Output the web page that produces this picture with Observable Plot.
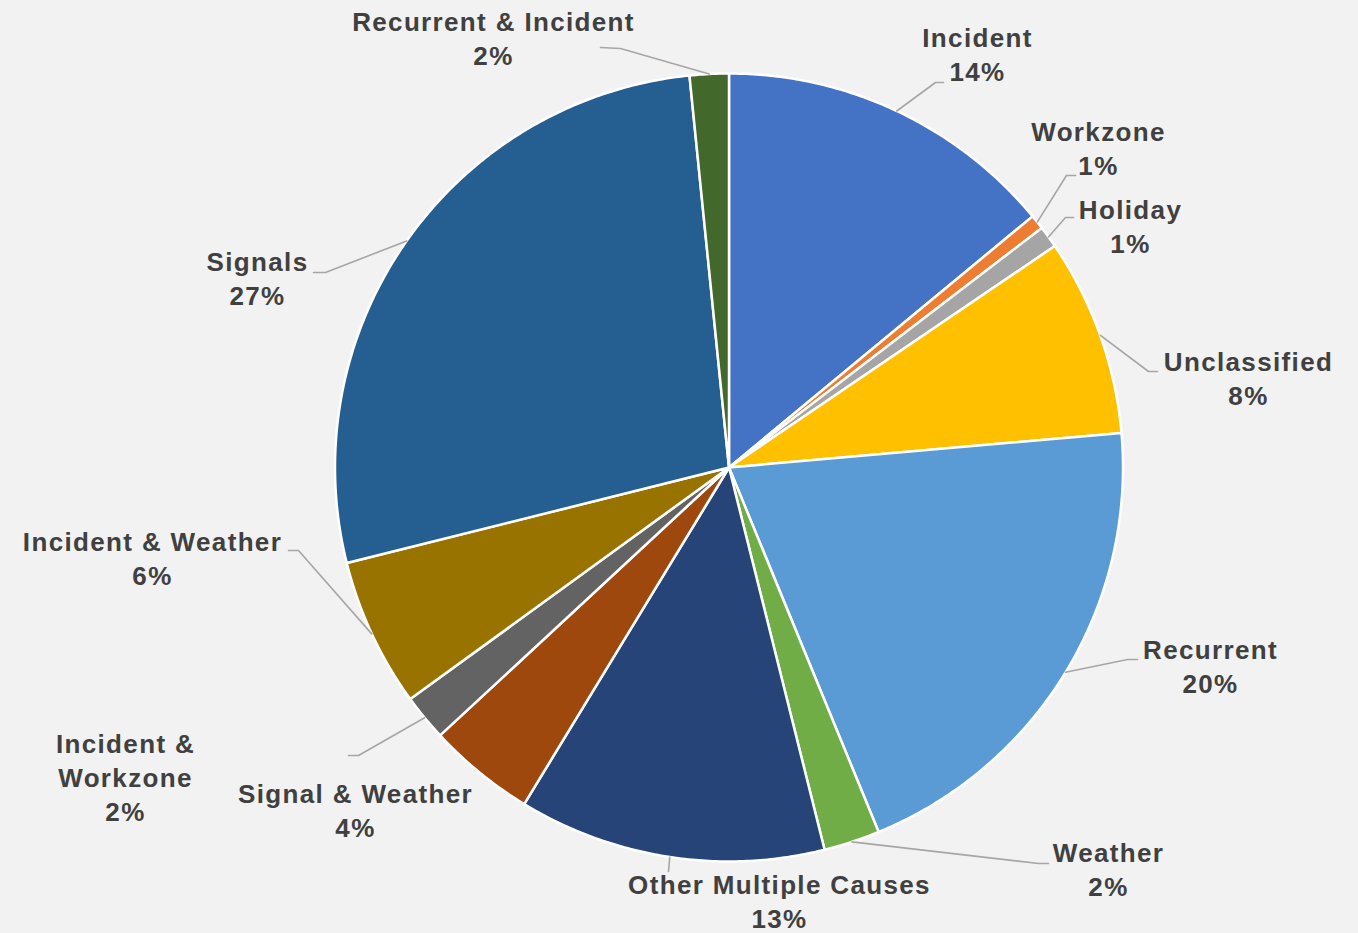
<!DOCTYPE html>
<html>
<head>
<meta charset="utf-8">
<script src="https://cdn.jsdelivr.net/npm/d3@7"></script>
<script src="https://cdn.jsdelivr.net/npm/@observablehq/plot@0.6"></script>
<style>
  html, body { margin: 0; padding: 0; background: #F2F2F2; }
  #chart svg text { letter-spacing: 1.35px; }
</style>
</head>
<body>
<div id="chart"></div>
<script>
// ---- data ----
const categories = ["Incident", "Workzone", "Holiday", "Unclassified", "Recurrent", "Weather",
  "Other Multiple Causes", "Signal & Weather", "Incident & Workzone", "Incident & Weather",
  "Signals", "Recurrent & Incident"];
const values = [14.0, 0.6, 0.9, 8.1, 20.2, 2.3, 12.6, 4.4, 1.9, 6.1, 27.3, 1.6];
const pctLabels = ["14%", "1%", "1%", "8%", "20%", "2%", "13%", "4%", "2%", "6%", "27%", "2%"];
const labelTexts = ["Incident", "Workzone", "Holiday", "Unclassified", "Recurrent", "Weather",
  "Other Multiple Causes", "Signal & Weather", "Incident &\nWorkzone", "Incident & Weather",
  "Signals", "Recurrent & Incident"];
const colors = ["#4472C4", "#ED7D31", "#A5A5A5", "#FFC000", "#5B9BD5", "#70AD47",
  "#264478", "#9E480E", "#636363", "#997300", "#255E91", "#43682B"];

// ---- layout (pixel positions of labels and leader elbows) ----
const W = 1358, H = 933, CX = 728.5, CY = 467, R = 394;
const labelPos = [[977,52.5],[1098,146.5],[1130,224.5],[1248,376.5],[1210,664.5],[1108,867.5],
  [779,900],[355,808.5],[125,775.5],[152,556.5],[257,276.5],[493,36.5]];
// leader: [elbow, end] or null
const leaders = [
  [[935,82],[943,82]],
  [[1066,175],[1075,175]],
  [[1065,217],[1073,217]],
  [[1148,371],[1157,371]],
  [[1127,659],[1137,659]],
  [[1038,863],[1048,863]],
  [[668,871],[668,871]],
  null,
  [[358,755],[348,755]],
  [[298,550],[288,550]],
  [[325,272],[313,272]],
  [[620,48],[600,47]]
];

const ux = px => (px - CX) / R;
const uy = py => (CY - py) / R;

// ---- build slices ----
const total = d3.sum(values);
const slicePts = [];
const leaderPts = [];
let cum = 0;
categories.forEach((name, i) => {
  const a0 = cum / total * 2 * Math.PI;
  const a1 = (cum + values[i]) / total * 2 * Math.PI;
  cum += values[i];
  slicePts.push({name, x: 0, y: 0});
  const n = Math.max(2, Math.ceil((a1 - a0) / (Math.PI / 360)));
  for (let k = 0; k <= n; k++) {
    const a = a0 + (a1 - a0) * k / n;
    slicePts.push({name, x: Math.sin(a), y: Math.cos(a)});
  }
  slicePts.push({name, x: 0, y: 0});
  if (leaders[i]) {
    const am = (a0 + a1) / 2;
    leaderPts.push({name, x: Math.sin(am), y: Math.cos(am)});
    leaders[i].forEach(([px, py]) => leaderPts.push({name, x: ux(px), y: uy(py)}));
  }
});

const labels = categories.map((name, i) => ({
  name, text: labelTexts[i] + "\n" + pctLabels[i],
  x: ux(labelPos[i][0]), y: uy(labelPos[i][1])
}));

const chart = Plot.plot({
  width: W, height: H,
  margin: 0,
  style: {background: "#F2F2F2", overflow: "visible"},
  x: {domain: [-1, 1], range: [CX - R, CX + R], axis: null},
  y: {domain: [-1, 1], range: [CY + R, CY - R], axis: null},
  color: {domain: categories, range: colors},
  marks: [
    Plot.line(slicePts, {x: "x", y: "y", z: "name", fill: "name", stroke: "white",
      strokeWidth: 2.5, strokeLinejoin: "round", curve: "linear"}),
    Plot.line(leaderPts, {x: "x", y: "y", z: "name", stroke: "#A6A6A6", strokeWidth: 1.6}),
    Plot.text(labels, {x: "x", y: "y", text: "text", fontSize: 26, fontWeight: "bold",
      fontFamily: "Liberation Sans, Arial, sans-serif", fill: "#404040",
      lineHeight: 1.3, lineAnchor: "middle", textAnchor: "middle"})
  ]
});
document.getElementById("chart").appendChild(chart);
</script>
</body>
</html>
